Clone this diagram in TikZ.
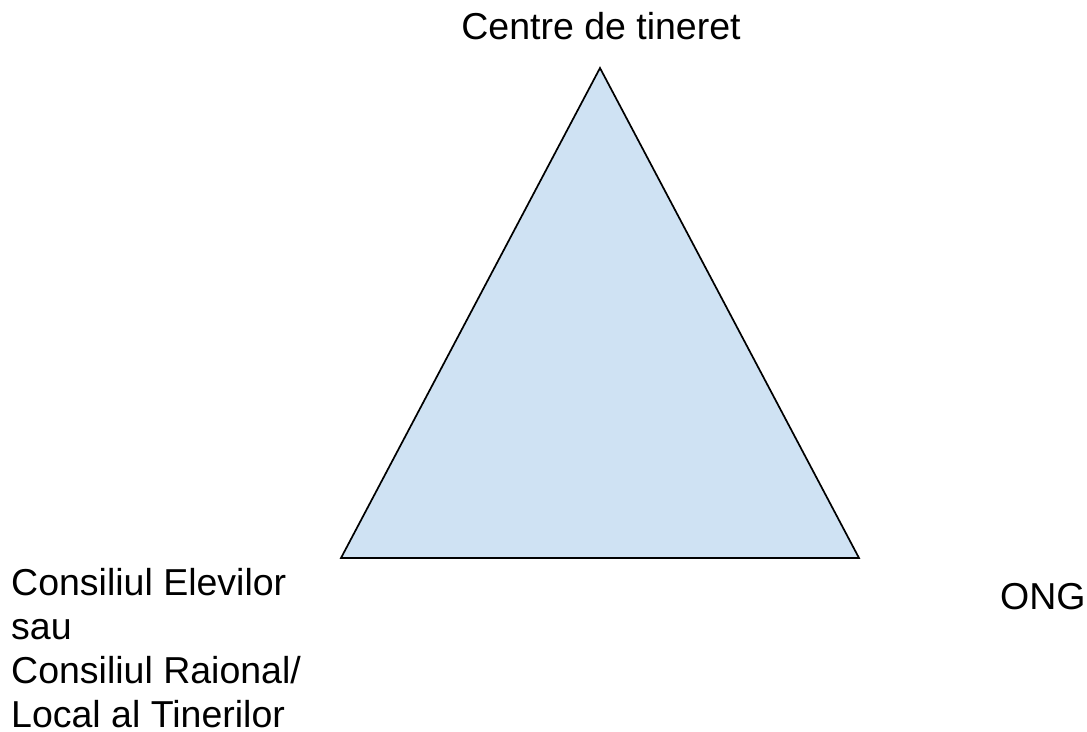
\documentclass[tikz,border=0pt]{standalone}
\usepackage{fontspec}
\setmainfont{Liberation Sans}
\definecolor{trifill}{HTML}{CFE2F3}
\begin{document}
\begin{tikzpicture}[x=1pt,y=-1pt,
  lbl/.style={inner sep=0pt,font=\fontsize{37.5}{44}\selectfont},
  tri/.style={draw=black,fill=trifill,line width=1.7pt,line join=miter}]
\useasboundingbox (0,0) rectangle (1087,731);
\coordinate (A) at (600,68);
\coordinate (B) at (341,558);
\coordinate (C) at (859,558);
\path[tri] (A) -- (B) -- (C) -- cycle;
\node[lbl,anchor=base] (top) at (601,39) {Centre de tineret};
\node[lbl,anchor=base west,align=left] (left) at (11,727) {Consiliul Elevilor\\sau\\Consiliul Raional/\\Local al Tinerilor};
\node[lbl,anchor=base west] (ong) at (1000,609) {ONG};
\end{tikzpicture}
\end{document}
